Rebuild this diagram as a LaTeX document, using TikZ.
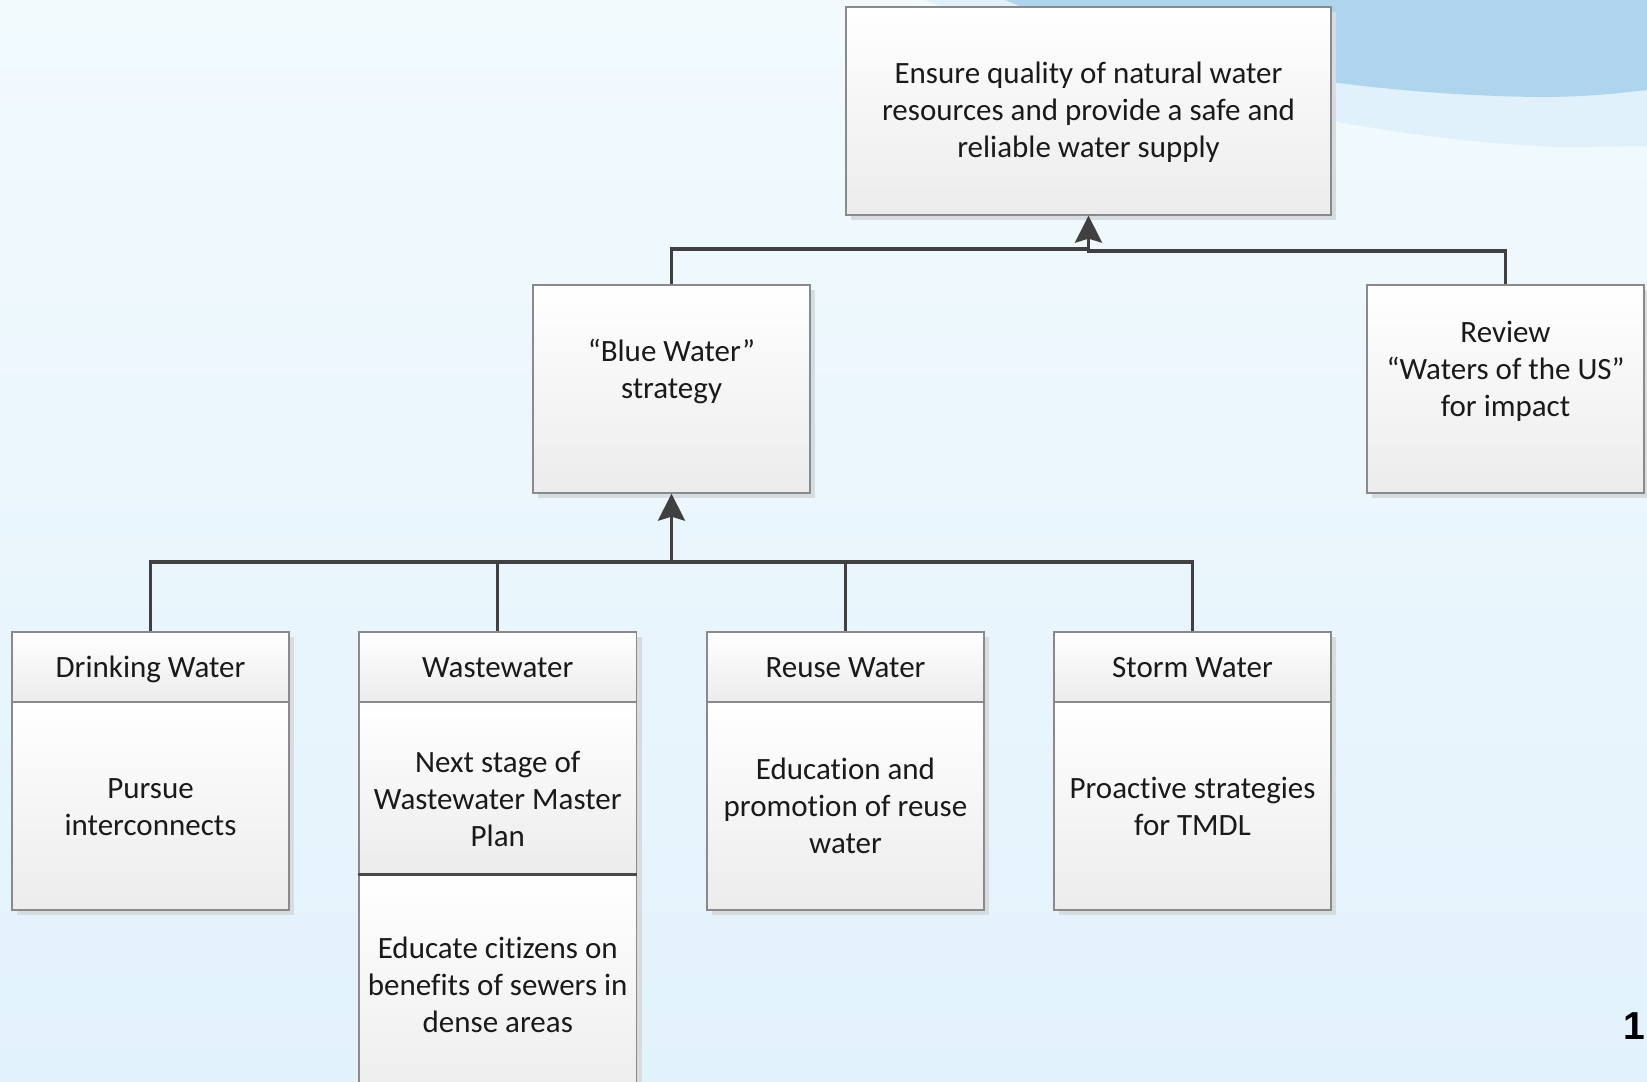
\documentclass[tikz,border=0pt]{standalone}
\usepackage{fontspec}
\setmainfont[Ligatures={NoCommon,NoRequired,NoContextual}]{Carlito}
\newfontfamily\numfont{Liberation Sans}
\usetikzlibrary{arrows.meta,fit,shadows}

\definecolor{bgtop}{HTML}{F2FAFE}
\definecolor{bgbot}{HTML}{E2F2FB}
\definecolor{wavedark}{HTML}{AFD4EE}
\definecolor{wavelight}{HTML}{E0F1FB}
\definecolor{cellline}{HTML}{8A8A8A}
\definecolor{cellbot}{HTML}{ECECEC}
\definecolor{shadowc}{HTML}{D6DCE0}
\definecolor{connc}{HTML}{404040}
\definecolor{divc}{HTML}{4A4A4A}
\definecolor{inkc}{HTML}{1A1A1A}

\begin{document}
\begin{tikzpicture}[x=0.5pt,y=-0.5pt,
  cell/.style={draw=cellline, line width=0.65pt, top color=white,
    bottom color=cellbot, inner sep=0pt,
    general shadow={fill=shadowc, shadow xshift=2.5pt, shadow yshift=-2.5pt}},
  txt/.style={align=center, text=inkc, inner sep=0pt,
    font=\fontsize{15.5}{18.5}\selectfont},
  head/.style={txt, anchor=base},
  conn/.style={draw=connc, line width=1.65pt},
  arr/.style={conn, -{Stealth[length=13.5pt,width=13.5pt,inset=2pt]}}]

% page area and background
\clip (0,0) rectangle (1647,1081);
\shade[top color=bgtop, bottom color=bgbot] (0,0) rectangle (1647,1081);

% decorative waves, top right
\fill[wavelight] (925,0) .. controls (1100,75) and (1350,140) .. (1560,147)
  .. controls (1600,147) and (1630,146) .. (1647,146) -- (1647,0) -- cycle;
\fill[wavedark] (1005,0) .. controls (1150,60) and (1350,95) .. (1540,97)
  .. controls (1590,97) and (1620,93) .. (1647,90) -- (1647,0) -- cycle;

% goal
\node[cell, fit={(846,7) (1331,215)}] (goal) {};
\node[txt] (goalt) at (1088.5,112.5)
  {Ensure quality of natural water\\resources and provide a safe and\\reliable water supply};

% second level
\node[cell, fit={(533,285) (810,493)}] (blue) {};
\node[txt] (bluet) at (671.5,371.7) {“Blue Water”\\strategy};
\node[cell, fit={(1367,285) (1644,493)}] (review) {};
\node[txt] (reviewt) at (1505.5,371.7) {Review\\“Waters of the US”\\for impact};

% drinking water
\node[cell, fit={(12,632) (289,702)}] (dwh) {};
\node[head] (dwht) at (150.5,677) {Drinking Water};
\node[cell, fit={(12,702) (289,910)}] (dwb) {};
\node[txt] (dwbt) at (150.5,807) {Pursue\\interconnects};

% wastewater
\node[cell, fit={(359,632) (636.5,702)}] (wwh) {};
\node[head] (wwht) at (497.75,677) {Wastewater};
\node[cell, fit={(359,702) (636.5,874)}] (wwa) {};
\node[txt] (wwat) at (497.75,799.4) {Next stage of\\Wastewater Master\\Plan};
\node[cell, fit={(359,874) (636.5,1110)}] (wwb) {};
\node[txt] (wwbt) at (497.75,985.2) {Educate citizens on\\benefits of sewers in\\dense areas};
\draw[divc, line width=1.5pt] (wwa.south west) -- (wwa.south east);

% reuse water
\node[cell, fit={(707,632) (984,702)}] (ruh) {};
\node[head] (ruht) at (845.5,677) {Reuse Water};
\node[cell, fit={(707,702) (984,910)}] (rub) {};
\node[txt] (rubt) at (845.5,805.5) {Education and\\promotion of reuse\\water};

% storm water
\node[cell, fit={(1054,632) (1331,702)}] (swh) {};
\node[head] (swht) at (1192.5,677) {Storm Water};
\node[cell, fit={(1054,702) (1331,910)}] (swb) {};
\node[txt] (swbt) at (1192.5,806) {Proactive strategies\\for TMDL};

% connectors: bottom row to "Blue Water"
\coordinate (busb) at (671.5,562);
\draw[conn] (dwh.north) -- (dwh.north |- busb) -- (swh.north |- busb) -- (swh.north);
\draw[conn] (wwh.north) -- (wwh.north |- busb);
\draw[conn] (ruh.north) -- (ruh.north |- busb);
\draw[arr] (blue.south |- busb) -- (blue.south);

% connectors: second level to goal
\coordinate (bustl) at (1088.5,249);
\coordinate (bustr) at (1088.5,251);
\draw[conn] (blue.north) |- (goal.south |- bustl);
\draw[arr] (review.north) |- (goal.south |- bustr) -- (goal.south);

% page number
\node[font=\numfont\bfseries\fontsize{19.5}{20}\selectfont, text=black, inner sep=0pt]
  (pg) at (1634,1026) {1};
\end{tikzpicture}
\end{document}
